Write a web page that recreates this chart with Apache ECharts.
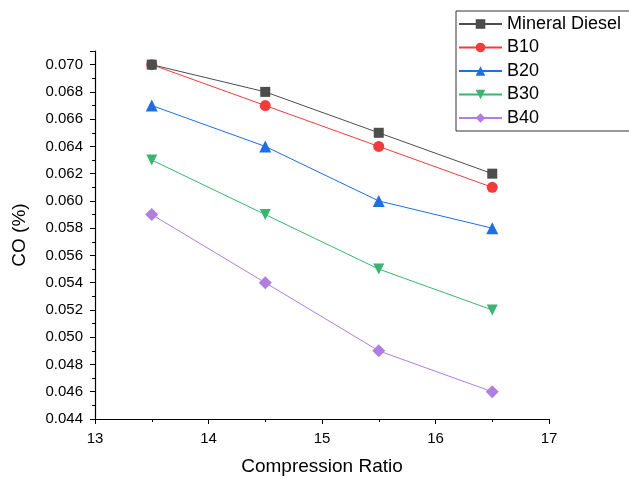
<!DOCTYPE html>
<html><head><meta charset="utf-8">
<script src="https://cdn.jsdelivr.net/npm/echarts@6/dist/echarts.min.js"></script>
<style>html,body{margin:0;padding:0;background:#fff}#c{width:629px;height:478px}</style>
</head><body><div id="c"></div>
<script>
const ratios = [13.5, 14.5, 15.5, 16.5];
const seriesNames = ['Mineral Diesel', 'B10', 'B20', 'B30', 'B40'];
const mineralDiesel = [0.070, 0.068, 0.065, 0.062];
const b10 = [0.070, 0.067, 0.064, 0.061];
const b20 = [0.067, 0.064, 0.060, 0.058];
const b30 = [0.063, 0.059, 0.055, 0.052];
const b40 = [0.059, 0.054, 0.049, 0.046];
const xTicks = [13, 14, 15, 16, 17];
const yTicks = [0.044, 0.046, 0.048, 0.050, 0.052, 0.054, 0.056, 0.058, 0.060, 0.062, 0.064, 0.066, 0.068, 0.070];

const values = [mineralDiesel, b10, b20, b30, b40];
const colors = ['#4d4d4d', '#f03c3c', '#1f6fe0', '#3cb371', '#b07de0'];
const symbols = ['rect', 'circle', 'triangle', 'path://M0,0 L10,0 L5,9 Z', 'diamond'];
const sizes = [10, 11, 12, 11, 13];

const chart = echarts.init(document.getElementById('c'), null, {renderer: 'canvas'});
const font = 'Arial, "Liberation Sans", sans-serif';
chart.setOption({
  animation: false,
  backgroundColor: '#fff',
  grid: {left: 95, right: 80, top: 51, bottom: 59, outerBoundsMode: 'none', containLabel: false},
  graphic: [{
    type: 'rect', left: 455.5, top: 10.5, z: 0,
    shape: {width: 220, height: 120},
    style: {fill: '#fff', stroke: '#333', lineWidth: 1}
  }],
  legend: {
    orient: 'vertical', left: 456, top: 11, z: 5,
    borderWidth: 0,
    padding: [4, 4, 2, 2],
    itemWidth: 43, itemHeight: 12, itemGap: 5.5,
    textStyle: {fontFamily: font, fontSize: 18, color: '#000'},
    data: seriesNames
  },
  xAxis: {
    type: 'value', min: xTicks[0], max: xTicks[xTicks.length - 1], interval: 1,
    name: 'Compression Ratio', nameLocation: 'middle', nameGap: 38,
    nameTextStyle: {fontFamily: font, fontSize: 19, color: '#000'},
    axisLine: {show: true, lineStyle: {color: '#000', width: 1.2}},
    axisTick: {show: true, inside: false, length: 5, lineStyle: {color: '#000'}},
    minorTick: {show: true, splitNumber: 2, length: 3, lineStyle: {color: '#000'}},
    axisLabel: {fontFamily: font, fontSize: 15, color: '#000', margin: 12},
    splitLine: {show: false}
  },
  yAxis: {
    type: 'value', min: 0.044, max: 0.071, interval: 0.002,
    name: 'CO (%)', nameLocation: 'middle', nameGap: 66, nameRotate: 90,
    nameTextStyle: {fontFamily: font, fontSize: 19, color: '#000'},
    axisLine: {show: true, lineStyle: {color: '#000', width: 1.2}},
    axisTick: {show: true, inside: false, length: 5, lineStyle: {color: '#000'}},
    minorTick: {show: true, splitNumber: 2, length: 3, lineStyle: {color: '#000'}},
    axisLabel: {fontFamily: font, fontSize: 15, color: '#000', margin: 12,
      formatter: v => yTicks.some(t => Math.abs(t - v) < 1e-9) ? v.toFixed(3) : ''},
    splitLine: {show: false}
  },
  series: seriesNames.map((n, i) => ({
    name: n, type: 'line',
    data: ratios.map((x, j) => [x, values[i][j]]),
    symbol: symbols[i], symbolSize: sizes[i],
    lineStyle: {color: colors[i], width: 1},
    itemStyle: {color: colors[i]},
    z: 10 - i
  }))
});
</script></body></html>
